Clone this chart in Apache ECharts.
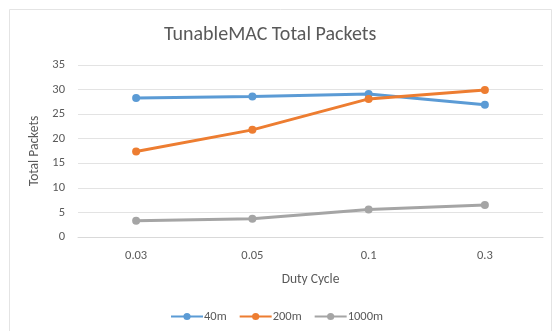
<!DOCTYPE html>
<html>
<head>
<meta charset="utf-8">
<script src="https://cdn.jsdelivr.net/npm/echarts@6/dist/echarts.min.js"></script>
<style>
  html, body { margin: 0; padding: 0; background: #fff; }
  #chart { width: 553px; height: 331px; }
</style>
</head>
<body>
<div id="chart"></div>
<script>
// Duty cycle categories and total packets per range
const dutyCycles = ['0.03', '0.05', '0.1', '0.3'];
const packets40m = [28.3, 28.6, 29.1, 26.9];
const packets200m = [17.4, 21.8, 28.1, 29.9];
const packets1000m = [3.3, 3.7, 5.6, 6.5];
const yTicks = { min: 0, max: 35, interval: 5 };

const seriesDefs = [
  { name: '40m', data: packets40m, color: '#5b9bd5' },
  { name: '200m', data: packets200m, color: '#ed7d31' },
  { name: '1000m', data: packets1000m, color: '#a5a5a5' }
];

const textColor = '#595959';
const font = 'Calibri, Carlito, "Open Sans", sans-serif';

const chart = echarts.init(document.getElementById('chart'));
chart.setOption({
  backgroundColor: '#ffffff',
  animation: false,
  textStyle: { fontFamily: font },
  graphic: [
    {
      type: 'polyline',
      shape: { points: [[9.5, 331], [9.5, 9.5], [551.5, 9.5], [551.5, 331]] },
      style: { stroke: '#e4e4e4', lineWidth: 1, fill: null },
      silent: true
    },
    {
      type: 'text',
      left: 164,
      top: 25,
      style: {
        text: 'TunableMAC Total Packets',
        fill: textColor,
        fontSize: 20,
        fontFamily: font
      },
      silent: true
    }
  ],
  grid: { left: 78, right: 10, top: 65, bottom: 94 },
  xAxis: {
    type: 'category',
    data: dutyCycles,
    boundaryGap: true,
    name: 'Duty Cycle',
    nameLocation: 'middle',
    nameGap: 36,
    nameTextStyle: { color: textColor, fontSize: 13.5, fontFamily: font },
    axisLine: { lineStyle: { color: '#d9d9d9' } },
    axisTick: { show: false },
    axisLabel: { color: textColor, fontSize: 12.5, margin: 12, fontFamily: font }
  },
  yAxis: {
    type: 'value',
    min: yTicks.min,
    max: yTicks.max,
    interval: yTicks.interval,
    name: 'Total Packets',
    nameLocation: 'middle',
    nameGap: 23,
    nameTextStyle: { color: textColor, fontSize: 13.5, fontFamily: font },
    axisLine: { show: false },
    axisTick: { show: false },
    axisLabel: { color: textColor, fontSize: 12.5, margin: 13, fontFamily: font },
    splitLine: { lineStyle: { color: '#e3e3e3', width: 1 } }
  },
  legend: {
    bottom: 3,
    left: 'center',
    itemWidth: 32,
    itemHeight: 9,
    itemGap: 12,
    textStyle: { color: textColor, fontSize: 12.5, fontFamily: font, padding: [0, 0, 0, -4] },
    data: seriesDefs.map(s => ({ name: s.name }))
  },
  series: seriesDefs.map(s => ({
    name: s.name,
    type: 'line',
    data: s.data,
    symbol: 'circle',
    symbolSize: 8,
    lineStyle: { color: s.color, width: 3 },
    itemStyle: { color: s.color },
    z: 2
  }))
});
</script>
</body>
</html>
